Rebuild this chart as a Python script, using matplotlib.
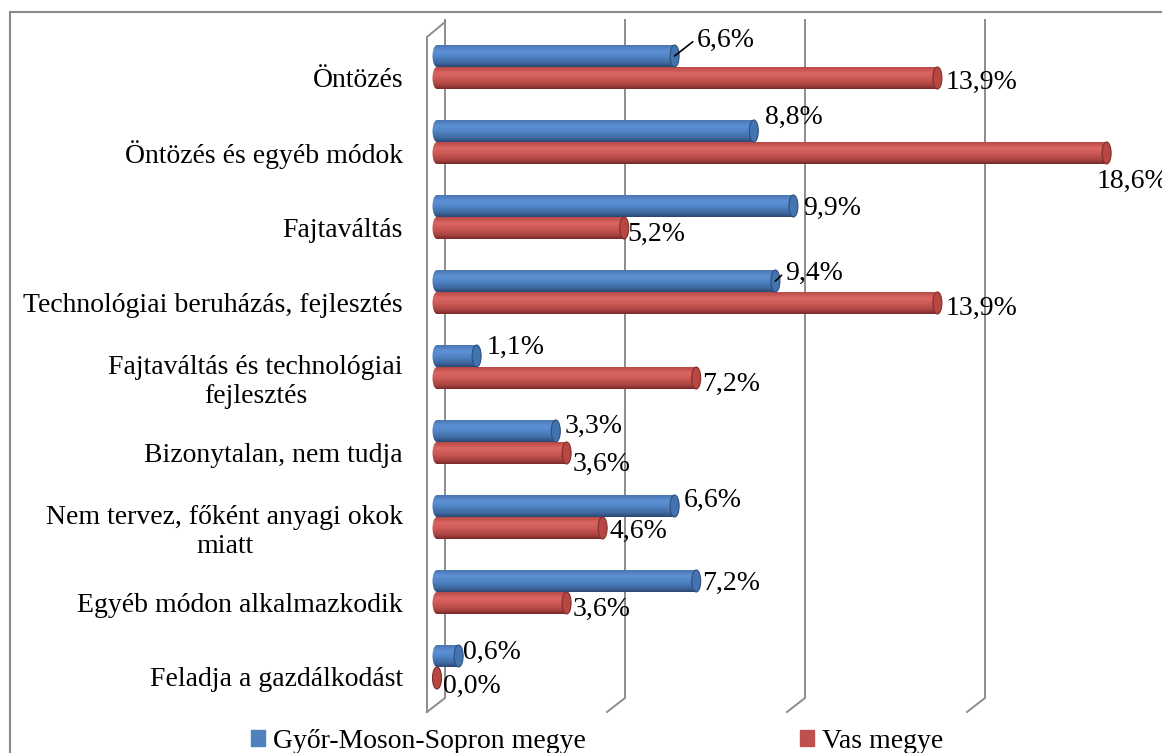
import numpy as np
import matplotlib
matplotlib.use("Agg")
import matplotlib.pyplot as plt
from matplotlib.patches import Rectangle, Ellipse, Patch
from matplotlib.colors import to_rgb

plt.rcParams['font.family'] = ['Liberation Serif', 'DejaVu Serif']

# data
categories = ["Öntözés", "Öntözés és egyéb módok", "Fajtaváltás",
              "Technológiai beruházás, fejlesztés",
              "Fajtaváltás és technológiai\nfejlesztés",
              "Bizonytalan, nem tudja", "Nem tervez, főként anyagi okok\nmiatt",
              "Egyéb módon alkalmazkodik", "Feladja a gazdálkodást"]
gyor = [6.6, 8.8, 9.9, 9.4, 1.1, 3.3, 6.6, 7.2, 0.6]
vas = [13.9, 18.6, 5.2, 13.9, 7.2, 3.6, 4.6, 3.6, 0.0]
series_names = ["Győr-Moson-Sopron megye", "Vas megye"]
grid_values = [0, 5, 10, 15]

# label offsets in pixels (dx, dy down), leader flag
gyor_lab = [(22, -16, True), (11, -14, False), (10, 2, False), (10, -8, True),
            (10, -9, False), (9, -5, False), (9, -6, False), (6, 2, False), (4, -4, False)]
vas_lab = [(8, 4, False), (-10, 28, False), (3, 6, False), (8, 5, False),
           (6, 6, False), (6, 11, False), (7, 3, False), (6, 6, False), (6, 8, False)]

# layout (pixels)
W, H = 1162, 753
X0, PPX = 437, 36.0     # pixel of value 0, pixels per percent
Y0, PPY = 67, 75.0      # pixel of first category centre, pixels per category
px = 1 / PPX
py = 1 / PPY

fig = plt.figure(figsize=(W / 100, H / 100), dpi=100)
ax_l, ax_r, ax_t, ax_b = 410, 1162, 12, 720
ax = fig.add_axes([ax_l / W, 1 - ax_b / H, (ax_r - ax_l) / W, (ax_b - ax_t) / H])
ax.set_xlim((ax_l - X0) * px, (ax_r - X0) * px)
ax.set_ylim((ax_b - Y0) * py, (ax_t - Y0) * py)
for s in ax.spines.values():
    s.set_visible(False)
ax.set_xticks([])
ax.patch.set_alpha(0)

# back plane gridlines + left wall
gcol = '#8c8c8c'
top_back = (20 - Y0) * py
bot_back = (698 - Y0) * py
bot_front = (712 - Y0) * py
for v in grid_values:
    xb = v + 8 * px
    xf = v - 10 * px
    ax.plot([xb, xb, xf], [top_back, bot_back, bot_front], color=gcol, lw=1.4,
            zorder=1, solid_joinstyle='miter')
ax.plot([8 * px, -10 * px, -10 * px], [(22 - Y0) * py, (37 - Y0) * py, bot_front],
        color=gcol, lw=1.4, zorder=1)


def gradient(stops):
    pos = [p for p, c in stops]
    cols = np.array([to_rgb(c) for p, c in stops])
    t = np.linspace(0, 1, 64)
    arr = np.stack([np.interp(t, pos, cols[:, k]) for k in range(3)], axis=-1)
    return arr[:, None, :]


blue_grad = gradient([(0, '#4A76B2'), (0.28, '#5E92D6'), (0.55, '#4F82C2'),
                      (0.82, '#3E68A0'), (1, '#2B4770')])
red_grad = gradient([(0, '#B84A47'), (0.28, '#DC6662'), (0.55, '#C95754'),
                     (0.82, '#A94340'), (1, '#772A28')])

bh = 22 * py
cap_w = 9 * px


def cylinder(v, yc, grad, cap_face, cap_edge):
    y_top, y_bot = yc - bh / 2, yc + bh / 2
    shapes = [Rectangle((0, y_top), v, bh, transform=ax.transData),
              Ellipse((0, yc), cap_w, bh, transform=ax.transData)]
    for shp in shapes:
        im = ax.imshow(grad, extent=(-cap_w, v + cap_w, y_bot, y_top),
                       aspect='auto', origin='upper', zorder=2, interpolation='bilinear')
        im.set_clip_path(shp)
    ax.add_patch(Ellipse((v, yc), cap_w, bh, facecolor=cap_face,
                         edgecolor=cap_edge, lw=0.8, zorder=3))


for i in range(len(categories)):
    yb = i - bh / 2
    yr = i + bh / 2
    cylinder(gyor[i], yb, blue_grad, '#4474B0', '#2E4F7E')
    cylinder(vas[i], yr, red_grad, '#B84744', '#7E2E2C')
    for v, yc, (dx, dy, lead) in ((gyor[i], yb, gyor_lab[i]), (vas[i], yr, vas_lab[i])):
        txt = f"{v:.1f}%".replace('.', ',')
        kw = {}
        if lead:
            kw['arrowprops'] = dict(arrowstyle='-', lw=1.2, color='black',
                                    shrinkA=1, shrinkB=0, relpos=(0, 0.55))
        ax.annotate(txt, xy=(v, yc), xytext=(dx, -dy), textcoords='offset pixels',
                    ha='left', va='center', fontsize=20, zorder=4, **kw)

ax.set_yticks(np.arange(len(categories)) + 10 * py, labels=categories)
ax.tick_params(axis='y', length=0, pad=5, labelsize=20)
for t in ax.get_yticklabels():
    t.set_multialignment('center')

# chart area border
fig.patches.append(Rectangle((10 / W, -0.1), 1.2, 1 - 12 / H + 0.1, transform=fig.transFigure,
                             fill=False, edgecolor='#8a8a8a', lw=1.5))

handles = [Patch(facecolor='#4F81BD', edgecolor='#4F81BD'),
           Patch(facecolor='#C0504D', edgecolor='#C0504D')]
fig.legend(handles, series_names, loc='center left', bbox_to_anchor=(251 / W, 1 - 741 / H),
           ncol=2, frameon=False, fontsize=20, handlelength=0.5, handleheight=0.5,
           handletextpad=0.3, columnspacing=7.7, borderpad=0, borderaxespad=0)

fig.savefig('out.png', dpi=100)
